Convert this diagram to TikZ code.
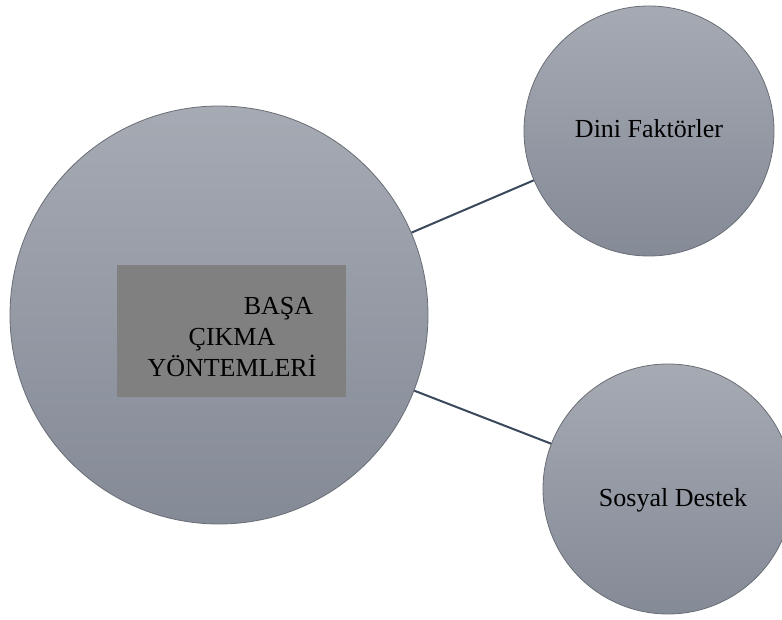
\documentclass[tikz,border=0pt]{standalone}
\usepackage{fontspec}
\setmainfont{Liberation Serif}
\definecolor{bubtop}{RGB}{165,170,179}
\definecolor{bubbot}{RGB}{132,138,150}
\definecolor{bubedge}{RGB}{105,110,118}
\definecolor{linkcol}{RGB}{58,72,92}
\definecolor{boxgray}{RGB}{128,128,128}

\begin{document}
\begin{tikzpicture}[x=1pt,y=-1pt,
  bubble/.style={circle, draw=bubedge, line width=0.8pt, top color=bubtop, bottom color=bubbot, inner sep=0pt},
  link/.style={draw=linkcol, line width=2pt},
  txt/.style={font=\fontsize{26}{31}\selectfont, inner sep=0pt}]
  \useasboundingbox (0,0) rectangle (782,620);

  % Kreise
  \node[bubble, minimum size=418pt] (main) at (219,315) {};
  \node[bubble, minimum size=250pt] (dini) at (649,131) {};
  \node[bubble, minimum size=250pt] (sosyal) at (668,489) {};

  \draw[link] (main) -- (dini);
  \draw[link] (main) -- (sosyal);

  % Kasten in der Mitte
  \node[fill=boxgray, minimum width=229pt, minimum height=132pt, inner sep=0pt] (kasten) at (231.5,331) {};

  % Texte
  \node[txt, align=center] (maintxt) at (232,337) {\hspace*{93pt}BAŞA\\ÇIKMA\\YÖNTEMLERİ};
  \node[txt, anchor=base] (dinitxt) at (649,138) {Dini Faktörler};
  \node[txt, anchor=base] (sosyaltxt) at (673,506) {Sosyal Destek};

\end{tikzpicture}
\end{document}
